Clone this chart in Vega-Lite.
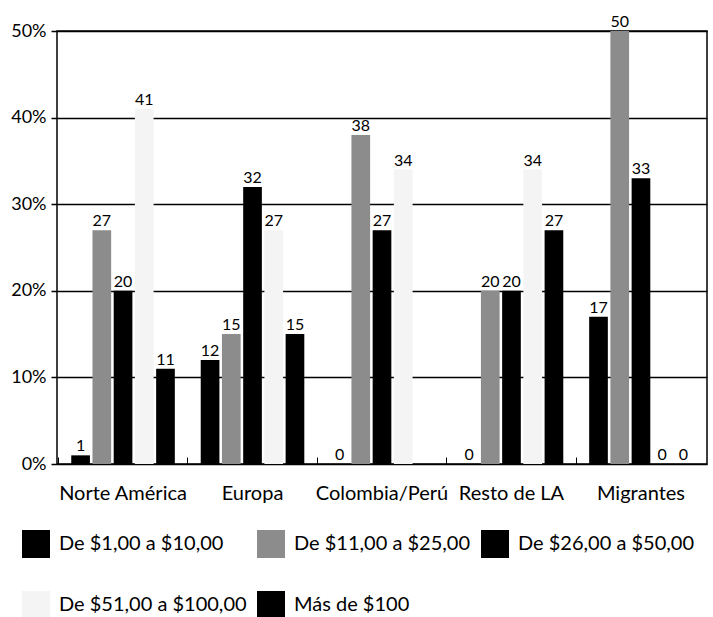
{
  "$schema": "https://vega.github.io/schema/vega-lite/v6.json",
  "width": 650,
  "height": 433,
  "autosize": {"type": "none"},
  "padding": {"left": 57, "top": 31, "right": 6, "bottom": 153},
  "background": "white",
  "config": {
    "font": "Lato",
    "view": {"stroke": "black", "strokeWidth": 1.5},
    "axis": {"labelColor": "black", "labelFont": "Lato"}
  },
  "data": {
    "values": [
      {"region": "Norte América", "range": "De $1,00 a $10,00", "value": 1},
      {"region": "Norte América", "range": "De $11,00 a $25,00", "value": 27},
      {"region": "Norte América", "range": "De $26,00 a $50,00", "value": 20},
      {"region": "Norte América", "range": "De $51,00 a $100,00", "value": 41},
      {"region": "Norte América", "range": "Más de $100", "value": 11},
      {"region": "Europa", "range": "De $1,00 a $10,00", "value": 12},
      {"region": "Europa", "range": "De $11,00 a $25,00", "value": 15},
      {"region": "Europa", "range": "De $26,00 a $50,00", "value": 32},
      {"region": "Europa", "range": "De $51,00 a $100,00", "value": 27},
      {"region": "Europa", "range": "Más de $100", "value": 15},
      {"region": "Colombia/Perú", "range": "De $1,00 a $10,00", "value": 0},
      {"region": "Colombia/Perú", "range": "De $11,00 a $25,00", "value": 38},
      {"region": "Colombia/Perú", "range": "De $26,00 a $50,00", "value": 27},
      {"region": "Colombia/Perú", "range": "De $51,00 a $100,00", "value": 34},
      {"region": "Resto de LA", "range": "De $1,00 a $10,00", "value": 0},
      {"region": "Resto de LA", "range": "De $11,00 a $25,00", "value": 20},
      {"region": "Resto de LA", "range": "De $26,00 a $50,00", "value": 20},
      {"region": "Resto de LA", "range": "De $51,00 a $100,00", "value": 34},
      {"region": "Resto de LA", "range": "Más de $100", "value": 27},
      {"region": "Migrantes", "range": "De $1,00 a $10,00", "value": 17},
      {"region": "Migrantes", "range": "De $11,00 a $25,00", "value": 50},
      {"region": "Migrantes", "range": "De $26,00 a $50,00", "value": 33},
      {"region": "Migrantes", "range": "De $51,00 a $100,00", "value": 0},
      {"region": "Migrantes", "range": "Más de $100", "value": 0}
    ]
  },
  "encoding": {
    "x": {
      "field": "region",
      "type": "nominal",
      "sort": ["Norte América", "Europa", "Colombia/Perú", "Resto de LA", "Migrantes"],
      "scale": {"paddingInner": 0.2, "paddingOuter": 0.11},
      "axis": {
        "title": null,
        "labelAngle": 0,
        "labelFontSize": 20,
        "labelPadding": 26,
        "domain": false,
        "ticks": true,
        "tickColor": "black",
        "tickSize": -7,
        "bandPosition": -0.125
      }
    },
    "xOffset": {
      "field": "range",
      "type": "nominal",
      "sort": ["De $1,00 a $10,00", "De $11,00 a $25,00", "De $26,00 a $50,00", "De $51,00 a $100,00", "Más de $100"],
      "scale": {"paddingInner": 0.12}
    },
    "y": {
      "field": "value",
      "type": "quantitative",
      "scale": {"domain": [0, 50]},
      "axis": {
        "title": null,
        "values": [0, 10, 20, 30, 40, 50],
        "labelExpr": "datum.value + '%'",
        "labelFontSize": 18,
        "labelPadding": 5,
        "tickSize": 6,
        "tickColor": "black",
        "tickWidth": 1.5,
        "domain": false,
        "grid": true,
        "gridColor": "black",
        "gridWidth": 1.5,
        "gridOpacity": 1
      }
    }
  },
  "layer": [
    {
      "mark": {"type": "bar"},
      "encoding": {
        "color": {
          "field": "range",
          "type": "nominal",
          "sort": ["De $1,00 a $10,00", "De $11,00 a $25,00", "De $26,00 a $50,00", "De $51,00 a $100,00", "Más de $100"],
          "scale": {
            "domain": ["De $1,00 a $10,00", "De $11,00 a $25,00", "De $26,00 a $50,00", "De $51,00 a $100,00", "Más de $100"],
            "range": ["#000000", "#8c8c8c", "#000000", "#f4f4f4", "#000000"]
          },
          "legend": {
            "title": null,
            "orient": "none",
            "direction": "horizontal",
            "legendX": -35,
            "legendY": 499,
            "columns": 3,
            "symbolType": "square",
            "symbolSize": 784,
            "symbolStrokeWidth": 0,
            "labelFontSize": 20,
            "labelColor": "black",
            "labelLimit": 300,
            "labelOffset": 9,
            "rowPadding": 33,
            "columnPadding": 10
          }
        }
      }
    },
    {
      "mark": {"type": "text", "dy": -9, "fontSize": 16, "color": "black"},
      "encoding": {"text": {"field": "value", "type": "quantitative"}}
    }
  ]
}
